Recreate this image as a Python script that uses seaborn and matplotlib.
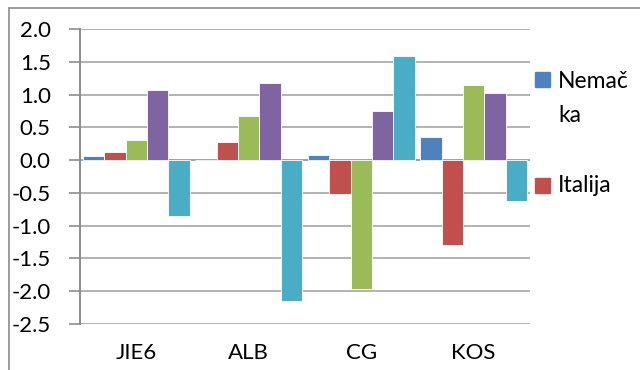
import matplotlib
matplotlib.use("Agg")
import matplotlib.pyplot as plt
import matplotlib.patches as mpatches
from matplotlib.lines import Line2D
import seaborn as sns
import pandas as pd

# Category labels on the x axis
categories = ["JIE6", "ALB", "CG", "KOS"]

# Series names (only the first two appear in the legend)
series = ["Nemačka", "Italija", "Serija 3", "Serija 4", "Serija 5"]

# Values per series, one per category
nemacka = [0.06, 0.0, 0.08, 0.36]
italija = [0.12, 0.28, -0.52, -1.29]
serija3 = [0.30, 0.67, -1.96, 1.14]
serija4 = [1.07, 1.18, 0.75, 1.03]
serija5 = [-0.85, -2.15, 1.59, -0.63]

colors = ["#4F81BD", "#C0504D", "#9BBB59", "#8064A2", "#4BACC6"]

rows = []
for name, vals in zip(series, [nemacka, italija, serija3, serija4, serija5]):
    for cat, v in zip(categories, vals):
        rows.append({"cat": cat, "serija": name, "val": v})
df = pd.DataFrame(rows)

sns.set_theme(style="white")
plt.rcParams["font.family"] = ["Lato", "DejaVu Sans"]

W, H = 640, 370
fig = plt.figure(figsize=(W / 100, H / 100), dpi=100)
ax = fig.add_axes([0.125, 0.1243, 0.703, 0.7973])

sns.barplot(data=df, x="cat", y="val", hue="serija", hue_order=series,
            order=categories, palette=colors, width=0.95, saturation=1,
            edgecolor="white", linewidth=0.6, legend=False, ax=ax)

ticks = [2.0, 1.5, 1.0, 0.5, 0.0, -0.5, -1.0, -1.5, -2.0, -2.5]
ax.set_ylim(-2.5, 2.0)
ax.set_xlim(-0.5, 3.5)
ax.set_yticks(ticks)
ax.set_yticklabels([f"{t:.1f}" for t in ticks])
ax.yaxis.grid(True, color="#a6a6a6", linewidth=1.2)
ax.set_axisbelow(True)
ax.axhline(0, color="#8c8c8c", linewidth=1.4, zorder=0.5)
ax.set_xlabel("")
ax.set_ylabel("")

for side in ["top", "right", "bottom"]:
    ax.spines[side].set_visible(False)
ax.spines["left"].set_color("#8c8c8c")
ax.spines["left"].set_linewidth(1.4)

ax.tick_params(axis="y", which="major", left=True, length=8, width=1.2,
               color="#8c8c8c", labelsize=16, pad=13, labelcolor="black")
ax.tick_params(axis="x", bottom=False, labelsize=16, pad=8, labelcolor="black")

# Legend for the first two series: swatch beside the first text line
def legend_entry(color, lines, top_px, baseline_px, line_gap_px):
    fig.add_artist(mpatches.Rectangle((535 / W, 1 - (top_px + 15) / H), 15 / W, 15 / H,
                                      transform=fig.transFigure, color=color))
    for i, line in enumerate(lines):
        fig.text(558 / W, 1 - (baseline_px + i * line_gap_px) / H, line,
                 fontsize=16.5, va="baseline", ha="left", color="black")

legend_entry(colors[0], ["Nemač", "ka"], 72, 88, 34)
legend_entry(colors[1], ["Italija"], 178, 192, 34)

# Chart frame
fig.add_artist(Line2D([9 / W, 9 / W], [0, 1 - 8 / H], color="#8c8c8c", linewidth=1.2))
fig.add_artist(Line2D([9 / W, 1], [1 - 8 / H, 1 - 8 / H], color="#8c8c8c", linewidth=1.2))

fig.savefig("out.png", dpi=100)
